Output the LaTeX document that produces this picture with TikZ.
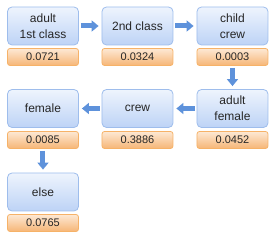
\documentclass[tikz,border=0pt]{standalone}
\usepackage{fontspec}
\setmainfont{Liberation Sans}
\usetikzlibrary{arrows.meta}
\definecolor{bxtop}{RGB}{238,244,253}
\definecolor{bxbot}{RGB}{189,211,246}
\definecolor{bxline}{RGB}{158,189,236}
\definecolor{vltop}{RGB}{253,233,212}
\definecolor{vlbot}{RGB}{246,182,118}
\definecolor{vlline}{RGB}{246,178,104}
\definecolor{arr}{RGB}{94,146,219}
\begin{document}
\begin{tikzpicture}[x=1pt,y=-1pt,
  box/.style={draw=bxline, line width=0.8pt, rounded corners=4.5pt, top color=bxtop, bottom color=bxbot,
    minimum width=71pt, minimum height=38pt, inner sep=0pt, align=center,
    font=\fontsize{12}{16}\selectfont, text=black!85},
  val/.style={draw=vlline, line width=0.8pt, rounded corners=2.5pt, top color=vltop, bottom color=vlbot,
    minimum width=71pt, minimum height=17pt, inner sep=0pt,
    font=\fontsize{11}{13}\selectfont, text=black!85},
  conn/.style={draw=arr, line width=5pt, -{Triangle[width=11pt,length=7pt]}, shorten <=2pt, shorten >=3pt}]
\useasboundingbox (0,0) rectangle (277,240);
% row 1
\node[box] (b1) at (43,26) {adult\\1st class};
\node[val] (v1) at (43,57) {0.0721};
\node[box] (b2) at (137.5,26) {2nd class};
\node[val] (v2) at (137.5,57) {0.0324};
\node[box] (b3) at (232.5,26) {child\\crew};
\node[val] (v3) at (232.5,57) {0.0003};
% row 2
\node[box] (b6) at (232.5,108.5) {adult\\female};
\node[val] (v6) at (232.5,140) {0.0452};
\node[box] (b5) at (137.5,108.5) {crew};
\node[val] (v5) at (137.5,140) {0.3886};
\node[box] (b4) at (43,108.5) {female};
\node[val] (v4) at (43,140) {0.0085};
% row 3
\node[box] (b7) at (43,192) {else};
\node[val] (v7) at (43,223) {0.0765};
% connectors
\draw[conn] (b1) -- (b2);
\draw[conn] (b2) -- (b3);
\draw[conn] (v3) -- (b6);
\draw[conn] (b6) -- (b5);
\draw[conn] (b5) -- (b4);
\draw[conn] (v4) -- (b7);
\end{tikzpicture}
\end{document}
